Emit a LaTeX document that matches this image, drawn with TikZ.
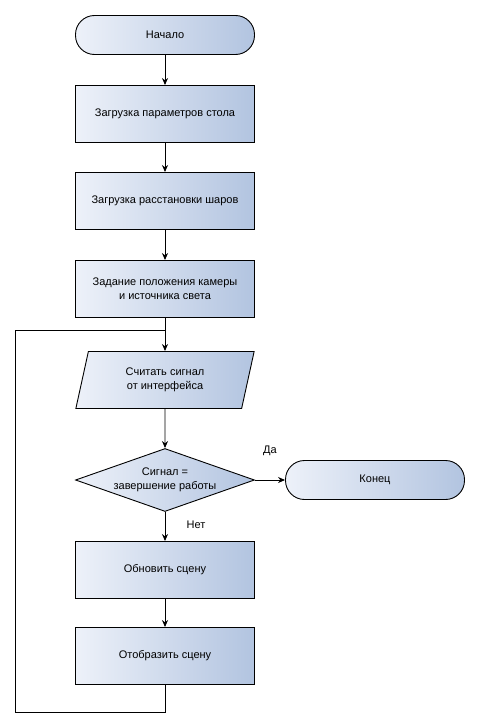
\documentclass[tikz,border=0pt]{standalone}
\usepackage{fontspec}
\setmainfont{Liberation Sans}
\usepackage{tikz}
\usetikzlibrary{arrows.meta,shapes.geometric}

\definecolor{fillL}{HTML}{EDF1F9}
\definecolor{fillR}{HTML}{B2C4E0}

\tikzset{
    blockbase/.style={draw,line width=0.9pt,left color=fillL,right color=fillR,
        font=\fontsize{11}{14}\selectfont,align=center,inner sep=0pt},
    process/.style={blockbase,rectangle,minimum width=179pt,minimum height=57pt},
    terminal/.style={blockbase,rectangle,rounded corners=19pt,minimum width=179pt,minimum height=39pt},
    inout/.style={blockbase,trapezium,trapezium left angle=75,trapezium right angle=105,
        trapezium stretches=true,minimum width=179pt,minimum height=57pt},
    decision/.style={blockbase,diamond,minimum width=179pt,minimum height=63pt},
    flow/.style={line width=0.9pt,-{Stealth[length=7pt,width=6pt]}},
    loopline/.style={line width=0.9pt}
}

\begin{document}
\begin{tikzpicture}[x=1pt,y=-1pt]
    \useasboundingbox (0,0) rectangle (480,728);

    % Blocks
    \node[terminal] (start) at (165,35) {Начало};
    \node[process] (loadtable) at (165,114) {Загрузка параметров стола};
    \node[process] (loadballs) at (165,201) {Загрузка расстановки шаров};
    \node[process] (setcam) at (165,289) {Задание положения камеры\\и источника света};
    \node[inout] (readsig) at (165,380) {Считать сигнал\\от интерфейса};
    \node[decision,label={[font=\fontsize{11}{14}\selectfont,align=center]center:Сигнал =\\завершение работы}] (isend) at (165,480) {};
    \node[terminal] (stop) at (375,480) {Конец};
    \node[process] (update) at (165,570) {Обновить сцену};
    \node[process] (render) at (165,656) {Отобразить сцену};

    % Loop corners
    \coordinate (loopbot) at (15,712);
    \coordinate (looptop) at (15,330);

    % Connectors
    \draw[flow] (start) -- (loadtable);
    \draw[flow] (loadtable) -- (loadballs);
    \draw[flow] (loadballs) -- (setcam);
    \draw[flow] (setcam) -- (readsig);
    \draw[flow] (readsig) -- (isend);
    \draw[flow] (isend) -- (stop);
    \draw[flow] (isend) -- (update);
    \draw[flow] (update) -- (render);
    \draw[loopline] (render.south) |- (loopbot) -- (looptop) -- (setcam.south |- looptop);

    % Labels
    \node[font=\fontsize{11}{14}\selectfont] (yes) at (270,451) {Да};
    \node[font=\fontsize{11}{14}\selectfont] (no) at (196,525) {Нет};
\end{tikzpicture}
\end{document}
